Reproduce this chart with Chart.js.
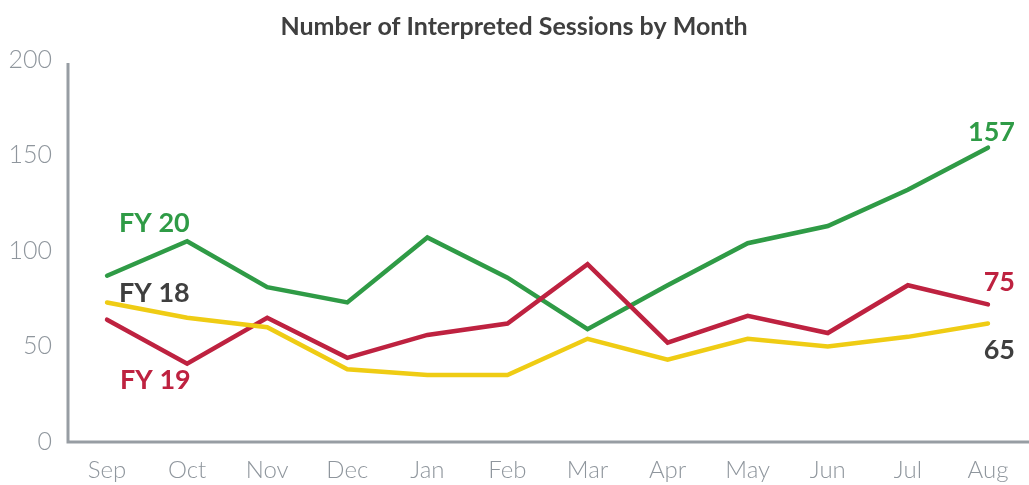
<!DOCTYPE html>
<html>
<head>
<meta charset="utf-8">
<script src="https://cdn.jsdelivr.net/npm/chart.js@4/dist/chart.umd.min.js"></script>
<style>
  html, body { margin: 0; padding: 0; background: #ffffff; }
  #wrap { width: 1029px; height: 485px; }
</style>
</head>
<body>
<div id="wrap"><canvas id="c" width="1029" height="485"></canvas></div>
<script>
const months = ['Sep','Oct','Nov','Dec','Jan','Feb','Mar','Apr','May','Jun','Jul','Aug'];
const fy18 = [76, 68, 63, 41, 38, 38, 57, 46, 57, 53, 58, 65];
const fy19 = [67, 44, 68, 47, 59, 65, 96, 55, 69, 60, 85, 75];
const fy20 = [90, 108, 84, 76, 110, 89, 62, 85, 107, 116, 135, 157];
const yTicks = [0, 50, 100, 150, 200];
const seriesNames = ['FY 18', 'FY 19', 'FY 20'];
const endLabels = ['65', '75', '157'];
const titleText = 'Number of Interpreted Sessions by Month';

const COLORS = { fy18: '#efcc14', fy19: '#be2240', fy20: '#2f9b46', dark: '#3f3f3f', axis: '#979da3', tick: '#8f969d' };

const annotate = {
  id: 'annotate',
  afterDraw(chart) {
    const { ctx, scales: { x, y } } = chart;
    ctx.save();
    // axis lines
    ctx.strokeStyle = COLORS.axis;
    ctx.lineWidth = 3;
    ctx.beginPath();
    ctx.moveTo(68, chart.chartArea.top);
    ctx.lineTo(68, 442);
    ctx.lineTo(1029, 442);
    ctx.stroke();

    ctx.font = 'bold 27px Lato';
    ctx.textBaseline = 'middle';
    // series name labels near the start
    const xs = x.getPixelForValue(0);
    ctx.textAlign = 'left';
    ctx.fillStyle = COLORS.fy20; ctx.fillText(seriesNames[2], xs + 12, y.getPixelForValue(117.5));
    ctx.fillStyle = COLORS.dark; ctx.fillText(seriesNames[0], xs + 12, y.getPixelForValue(81));
    ctx.fillStyle = COLORS.fy19; ctx.fillText(seriesNames[1], xs + 13, y.getPixelForValue(35.4));
    // end labels
    const xe = x.getPixelForValue(months.length - 1);
    ctx.textAlign = 'right';
    ctx.fillStyle = COLORS.fy20; ctx.fillText(endLabels[2], xe + 27, y.getPixelForValue(fy20[11] + 8));
    ctx.fillStyle = COLORS.fy19; ctx.fillText(endLabels[1], xe + 27, y.getPixelForValue(fy19[11] + 11.6));
    ctx.fillStyle = COLORS.dark; ctx.fillText(endLabels[0], xe + 27, y.getPixelForValue(fy18[11] - 13.9));
    ctx.restore();
  }
};

const lineDs = (data, color) => ({
  data, borderColor: color, backgroundColor: color, borderWidth: 4.5,
  pointRadius: 0, tension: 0, borderJoinStyle: 'miter', borderCapStyle: 'round', fill: false
});

new Chart(document.getElementById('c'), {
  type: 'line',
  data: {
    labels: months,
    datasets: [lineDs(fy18, COLORS.fy18), lineDs(fy19, COLORS.fy19), lineDs(fy20, COLORS.fy20)]
  },
  options: {
    responsive: false,
    animation: false,
    devicePixelRatio: 1,
    layout: { padding: { left: 0, right: 1, top: 0, bottom: 0 } },
    plugins: {
      legend: { display: false },
      tooltip: { enabled: false },
      title: {
        display: true, text: titleText, color: COLORS.dark,
        font: { family: 'Lato', size: 25, weight: 'bold', lineHeight: 1.2 },
        padding: { top: 12, bottom: 21 }
      }
    },
    scales: {
      x: {
        offset: true,
        grid: { display: false, drawTicks: false },
        border: { display: false },
        ticks: { color: COLORS.tick, font: { family: 'Lato', size: 24, weight: '300' }, padding: 8, maxRotation: 0, autoSkip: false },
        afterFit(s) { s.height = 37.3; }
      },
      y: {
        min: 0, max: 201.3,
        grid: { display: false, drawTicks: false },
        border: { display: false },
        afterBuildTicks(s) { s.ticks = yTicks.map(v => ({ value: v })); },
        ticks: { color: COLORS.tick, font: { family: 'Lato', size: 25, weight: '300' }, padding: 15, labelOffset: -6 },
        afterFit(s) { s.width = 67; }
      }
    }
  },
  plugins: [annotate]
});
</script>
</body>
</html>
